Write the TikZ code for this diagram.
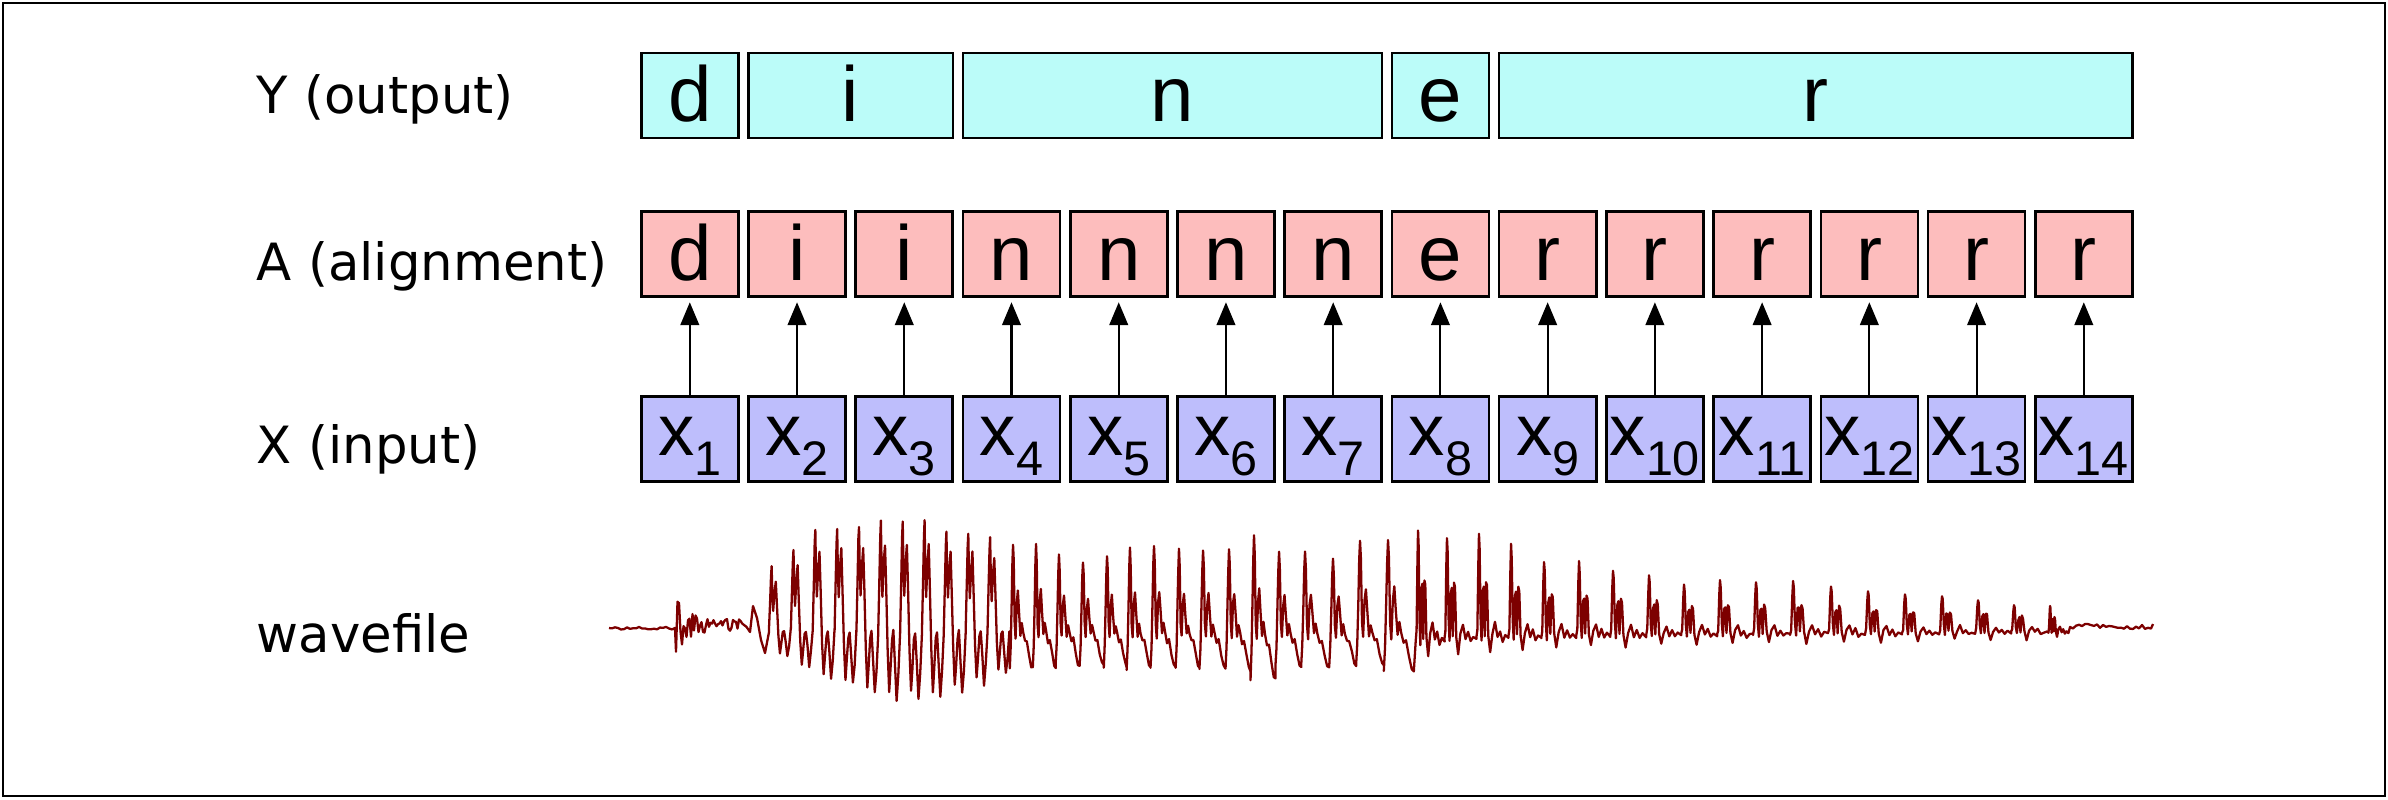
\documentclass[tikz,border=0pt]{standalone}
\usepackage{fontspec}
\setmainfont{DejaVu Sans}
\newfontfamily\cellfont{Liberation Sans}
\usetikzlibrary{arrows.meta}
\definecolor{ycol}{RGB}{187,252,249}
\definecolor{acol}{RGB}{253,189,189}
\definecolor{xcol}{RGB}{190,190,252}
\definecolor{wavecol}{RGB}{125,0,0}
% subscripted input symbol x_i
\newcommand{\xsub}[1]{x\raisebox{-0.2cm}{\fontsize{13.8}{14}\selectfont #1}}
% one period of each waveform pattern: normalised time / normalised value
\def\wone{0/-0.05,0.05/0.45,0.09/0.85,0.12/1,0.15/0.6,0.19/0.3,0.25/0.6,0.31/0.78,0.36/0.4,0.43/-0.3,0.5/-0.85,0.56/-0.55,0.63/-0.15,0.69/-0.05,0.76/-0.45,0.84/-0.95,0.92/-0.6,1/-0.05}
\def\wtwo{0/-0.85,0.04/-0.4,0.08/0.3,0.11/0.75,0.14/1,0.17/0.8,0.21/0.05,0.25/-0.2,0.3/0.3,0.35/0.45,0.4/0.2,0.46/-0.15,0.52/0.05,0.58/-0.1,0.66/-0.3,0.74/-0.25,0.84/-0.55,0.93/-0.8,1/-0.85}
\def\wthree{0/-0.4,0.03/-0.1,0.06/0.7,0.08/1,0.1/0.85,0.13/0.1,0.16/-0.5,0.2/0.4,0.23/0.45,0.26/-0.3,0.3/0.5,0.33/0.45,0.37/-0.3,0.43/-0.9,0.5/-0.2,0.58/0.05,0.66/-0.4,0.74/-0.1,0.82/-0.5,0.9/-0.3,1/-0.4}
\begin{document}
\begin{tikzpicture}[x=0.01cm,y=-0.01cm,
  lbl/.style={anchor=base west,inner sep=0pt,font=\fontsize{14.6}{17}\selectfont},
  cell/.style={draw=black,line width=0.75pt,minimum width=0.97cm,minimum height=0.85cm,
    inner sep=0pt,text height=0.524cm,text depth=0cm,font=\cellfont\fontsize{22.2}{26}\selectfont},
  ycell/.style={cell,fill=ycol},
  acell/.style={cell,fill=acol},
  xcell/.style={cell,fill=xcol,text height=0.316cm,font=\cellfont\fontsize{20.6}{24}\selectfont},
  link/.style={-{Triangle[length=6.5pt,width=5.3pt]},line width=0.6pt,shorten >=1.2pt},
  wave/.style={draw=wavecol,line width=0.65pt,line join=round}]
\useasboundingbox (0,0) rectangle (2388,799);
\draw[line width=0.6pt] (3,3) rectangle (2385,796);

% row labels
\node[lbl] (ylab) at (256,113) {Y (output)};
\node[lbl] (alab) at (256,280) {A (alignment)};
\node[lbl] (xlab) at (256,463) {X (input)};
\node[lbl] (wlab) at (256,652) {wavefile};

% output segments
\foreach \nm/\f/\l/\c in {yd/1/1/d,yi/2/3/i,yn/4/7/n,ye/8/8/e,yr/9/14/r}
  \node[ycell,minimum width={(\l-\f+1)*1.0723cm-0.1023cm}] (\nm)
    at ({689.8+((\f+\l)/2-1)*107.23},95.5) {\c};

% alignment and input frames
\foreach \i/\a in {1/d,2/i,3/i,4/n,5/n,6/n,7/n,8/e,9/r,10/r,11/r,12/r,13/r,14/r} {
  \node[acell] (a\i) at ({689.8+(\i-1)*107.23},254.2) {\a};
  \node[xcell] (x\i) at ({689.8+(\i-1)*107.23},439.2) {\xsub{\i}};
  \draw[link] (x\i.north) -- (a\i.south);
}

% speech waveform
\pgfmathsetseed{7}
\draw[wave] (609,628)
  \foreach \x in {612,615,...,675} { -- ({\x},{628+1.5*rand}) }
  \foreach \x in {676,677.5,...,747} { -- ({\x},{625+(6+26*exp(-(\x-676)/10))*rand}) }
  -- (750,632) -- (753,606) -- (757,618) -- (761,640) -- (765,653) -- (769,632)
  \foreach \s/\u/\d in {769/61/29,790.85/79/41,812.7/98/52,834.55/101/59,856.4/103/69,878.25/108/76,900.1/106/74,921.95/106/74,943.8/98/69,965.65/96/59,987.5/91/49}
    { \foreach \t/\v in \wone { -- ({\s+\t*21.85},{628-(\v>0?\u:\d)*(\v)+2*rand}) } }
  \foreach \s/\p/\u/\d in {1009.8/23/84/47,1032.8/23/84/47,1055.6/24/74/45,1079.6/24/66/45,1103.8/23/73/45,1126.6/24/79/47,1150.5/25/83/47,1175.6/24/78/47,1199.4/26/78/47,1225.5/25/78/50,1250.5/25/91/60,1275.4/26/76/47,1301.1/28/76/47,1329.2/27/69/45,1356.1/28/89/45,1383.8/30/89/50}
    { \foreach \t/\v in \wtwo { -- ({\s+\t*\p},{628-(\v>0?\u:\d)*(\v)+2*rand}) } }
  \foreach \s/\p/\u/\d in {1415.7/29/98/32,1444.4/32/90/28,1476.4/32/94/26,1508.4/33/83/24,1541.2/35/66/22,1576.3/34/66/20,1610.1/36/57/20,1646.2/35/53/18,1681.1/36/43/18,1717.1/36/48/17,1753/37/45/16,1790/38/47/16,1828/37/42/15,1865/37/37/15,1902/37/34/14,1939.1/36/33/13,1975.1/36/28/12,2011.1/36/23/12,2048.4/20/23/10}
    { \foreach \t/\v in \wthree { -- ({\s+\t*\p},{628-(\v>0?\u:\d)*(\v)+1.5*rand}) } }
  \foreach \x in {2070,2073,...,2151} { -- ({\x},{627-4*exp(-((\x-2088)/8)^2)+2*rand}) }
  -- (2153,624);
\end{tikzpicture}
\end{document}
